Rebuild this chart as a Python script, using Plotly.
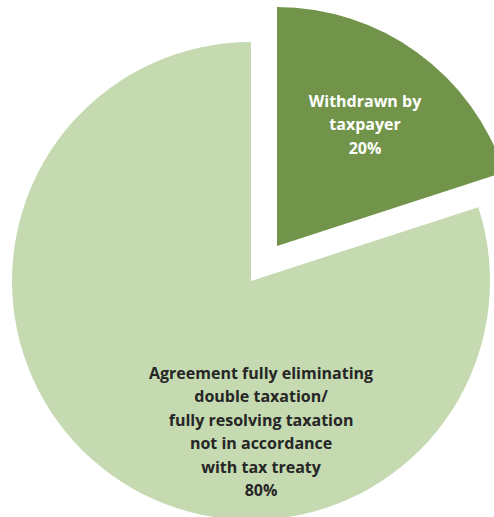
import plotly.graph_objects as go

categories = ["Withdrawn by<br>taxpayer",
              "Agreement fully eliminating<br>double taxation/<br>fully resolving taxation<br>not in accordance<br>with tax treaty"]
values = [20, 80]
colors = ["#71944a", "#c5dab0"]
text_colors = ["#ffffff", "#262626"]

W, H = 520, 523


def span(s):
    return "<br>".join(f"<span style='font-size:16px'>{p}</span>" for p in s.split("<br>"))


def dom(cx, cy, r):
    return dict(x=[(cx - r) / W, (cx + r) / W], y=[(H - (cy + r)) / H, (H - (cy - r)) / H])


total = sum(values)
fig = go.Figure()
# main pie (80% slice)
fig.add_trace(go.Pie(
    labels=categories, values=values, sort=False, direction="clockwise", rotation=0,
    marker=dict(colors=["rgba(0,0,0,0)", colors[1]], line=dict(width=0)),
    textinfo="none", domain=dom(251, 281, 239), hoverinfo="skip", showlegend=False,
))
# exploded slice (20%)
fig.add_trace(go.Pie(
    labels=categories, values=values, sort=False, direction="clockwise", rotation=0,
    marker=dict(colors=[colors[0], "rgba(0,0,0,0)"], line=dict(width=0)),
    texttemplate=[span("%{label}<br>%{percent:.0%}"), ""], textposition="inside",
    insidetextorientation="horizontal",
    textfont=dict(family="Open Sans", size=18, color=text_colors[0], weight="bold"),
    domain=dom(277, 246, 239), hoverinfo="skip", showlegend=False,
))
# label of the large slice
fig.add_annotation(
    text=span(f"{categories[1]}<br>{values[1] / total:.0%}"),
    xref="paper", yref="paper", x=261 / W, y=(H - 431) / H,
    xanchor="center", yanchor="middle", showarrow=False,
    font=dict(family="Open Sans", size=18, color=text_colors[1], weight="bold"),
)
fig.update_layout(width=W, height=H, margin=dict(l=0, r=0, t=0, b=0),
                  paper_bgcolor="white", plot_bgcolor="white", showlegend=False)
fig.write_html("out.html", post_script="document.body.style.margin='0';document.body.style.overflow='hidden';document.documentElement.style.overflow='hidden';")
